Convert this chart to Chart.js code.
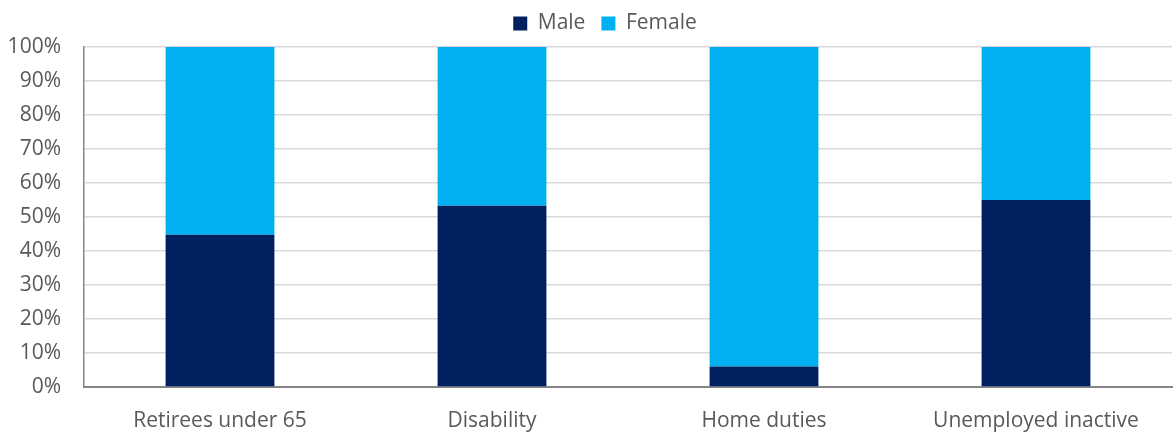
<!DOCTYPE html>
<html>
<head>
<meta charset="utf-8">
<script src="https://cdn.jsdelivr.net/npm/chart.js@4"></script>
<style>
html,body{margin:0;padding:0;background:#fff;}
#wrap{width:1174px;height:432px;}
</style>
</head>
<body>
<div id="wrap"><canvas id="c" width="1174" height="432"></canvas></div>
<script>
const categories = ["Retirees under 65", "Disability", "Home duties", "Unemployed inactive"];
const maleValues = [44.8, 53.3, 6.0, 55.0];
const femaleValues = [55.2, 46.7, 94.0, 45.0];
const yTicks = [0, 10, 20, 30, 40, 50, 60, 70, 80, 90, 100];

const FONT = "'Open Sans', sans-serif";
const TXT = "#595959";

const legendTweak = {
  id: 'legendTweak',
  beforeInit(chart) {
    const lg = chart.legend;
    if (!lg) return;
    const orig = lg.fit;
    lg.fit = function () { orig.call(this); this.height = 47; };
  },
  afterLayout(chart) {
    const lg = chart.legend;
    if (!lg) return;
    lg.left += 19; lg.right += 19;
    lg.top -= 3; lg.bottom -= 3;
  }
};

new Chart(document.getElementById('c'), {
  type: 'bar',
  data: {
    labels: categories,
    datasets: [
      { label: 'Male', data: maleValues, backgroundColor: '#002060', borderWidth: 0 },
      { label: 'Female', data: femaleValues, backgroundColor: '#00B0F0', borderWidth: 0 }
    ]
  },
  options: {
    responsive: false,
    animation: false,
    maintainAspectRatio: false,
    layout: { padding: { left: 0, right: 2, top: 0, bottom: 0 } },
    datasets: { bar: { categoryPercentage: 1, barPercentage: 0.4 } },
    plugins: {
      legend: {
        position: 'top',
        labels: {
          color: TXT,
          font: { family: FONT, size: 21 },
          boxWidth: 14, boxHeight: 14, padding: 16
        }
      },
      tooltip: { enabled: false }
    },
    scales: {
      x: {
        stacked: true,
        grid: { display: false },
        border: { display: true, color: '#868686', width: 2 },
        ticks: { color: TXT, font: { family: FONT, size: 21 }, padding: 13, maxRotation: 0 },
        afterFit(s) { s.height = 45; }
      },
      y: {
        stacked: true,
        min: 0, max: 100,
        afterBuildTicks(s) { s.ticks = yTicks.map(v => ({ value: v })); },
        grid: { color: '#d9d9d9', lineWidth: 1.5, drawTicks: false },
        border: { display: true, color: '#868686', width: 1.5 },
        ticks: { color: TXT, font: { family: FONT, size: 21 }, padding: 23, callback: v => v + '%' },
        afterFit(s) { s.width = 84; }
      }
    }
  },
  plugins: [legendTweak]
});
</script>
</body>
</html>
